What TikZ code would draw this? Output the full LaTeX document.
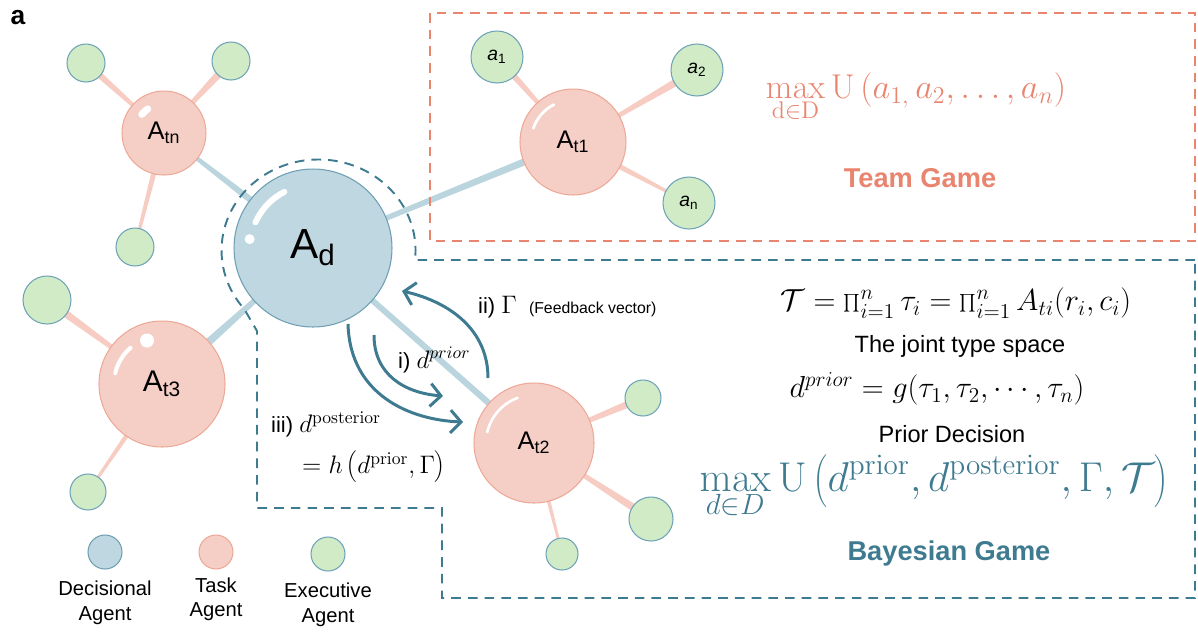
\RequirePackage{fix-cm}
\documentclass[tikz,border=0pt]{standalone}
\usepackage[no-math]{fontspec}
\setmainfont{Liberation Sans}
\usetikzlibrary{positioning,calc,arrows.meta,backgrounds}

\definecolor{decfill}{HTML}{BFD7E0}
\definecolor{decline}{HTML}{6E9FB3}
\definecolor{taskfill}{HTML}{F5CFC6}
\definecolor{taskline}{HTML}{EDA897}
\definecolor{execfill}{HTML}{D1EBC6}
\definecolor{execline}{HTML}{6FA3B8}
\definecolor{bondblue}{HTML}{BAD5DE}
\definecolor{bondpink}{HTML}{F6CCC3}
\definecolor{salmon}{HTML}{E9846F}
\definecolor{tealc}{HTML}{3F7B90}

% tapered link between two agents
\newcommand{\bond}[5]{%
  \fill[#3] ($(#1)!#4!90:(#2)$) -- ($(#2)!#5!-90:(#1)$)
    -- ($(#2)!#5!90:(#1)$) -- ($(#1)!#4!-90:(#2)$) -- cycle;}

\tikzset{
  agent/.style={circle, inner sep=0pt, line width=0.6pt},
  decision/.style={agent, fill=decfill, draw=decline},
  task/.style={agent, fill=taskfill, draw=taskline},
  exec/.style={agent, fill=execfill, draw=execline},
  gloss/.style={white, line cap=round},
  gamebox/.style={dash pattern=on 5.5pt off 4pt, line width=1.1pt},
  flow/.style={tealc, line width=1.7pt, -{Straight Barb[length=6pt,width=13pt]}},
  legtext/.style={align=center, font=\fontsize{11.5}{14}\selectfont},
}

\begin{document}
\begin{tikzpicture}[x=0.02cm, y=-0.02cm]
\useasboundingbox (0,0) rectangle (1198,637);

\node[font=\bfseries\fontsize{15}{15}\selectfont] (panel) at (18,18) {a};

% agents
\node[decision, minimum size=3.16cm, font=\fontsize{24}{24}\selectfont] (Ad) at (313,248) {A\textsubscript{d}};
\node[task, minimum size=1.68cm, font=\fontsize{14.5}{14.5}\selectfont] (Atn) at (164,133) {A\textsubscript{tn}};
\node[task, minimum size=2.12cm, font=\fontsize{14.5}{14.5}\selectfont] (At1) at (573,142) {A\textsubscript{t1}};
\node[task, minimum size=2.52cm, font=\fontsize{17}{17}\selectfont] (At3) at (162,384) {A\textsubscript{t3}};
\node[task, minimum size=2.4cm, font=\fontsize{14.5}{14.5}\selectfont] (At2) at (534,443) {A\textsubscript{t2}};

\node[exec, minimum size=0.76cm] (gn1) at (86,63) {};
\node[exec, minimum size=0.76cm] (gn2) at (231,61) {};
\node[exec, minimum size=0.76cm] (gn3) at (135,247) {};
\node[exec, minimum size=1.04cm, font=\fontsize{11}{11}\selectfont] (a1) at (497,57) {\textit{a}\textsubscript{1}};
\node[exec, minimum size=1.04cm, font=\fontsize{11}{11}\selectfont] (a2) at (697,70) {\textit{a}\textsubscript{2}};
\node[exec, minimum size=1.04cm, font=\fontsize{11}{11}\selectfont] (an) at (689,203) {\textit{a}\textsubscript{n}};
\node[exec, minimum size=0.96cm] (g31) at (47,300) {};
\node[exec, minimum size=0.72cm] (g32) at (88,492) {};
\node[exec, minimum size=0.72cm] (g21) at (643,398) {};
\node[exec, minimum size=0.88cm] (g22) at (651,519) {};
\node[exec, minimum size=0.64cm] (g23) at (562,554) {};

\begin{pgfonlayer}{background}
\bond{Ad}{Atn}{bondblue}{2.6pt}{0.8pt}
\bond{Ad}{At1}{bondblue}{1.2pt}{2.2pt}
\bond{Ad}{At3}{bondblue}{0.8pt}{2.8pt}
\bond{Ad}{At2}{bondblue}{1.6pt}{1.8pt}
\bond{Atn}{gn1}{bondpink}{0.6pt}{2pt}
\bond{Atn}{gn2}{bondpink}{0.6pt}{2.4pt}
\bond{Atn}{gn3}{bondpink}{1.8pt}{0.8pt}
\bond{At1}{a1}{bondpink}{0.6pt}{2pt}
\bond{At1}{a2}{bondpink}{0.6pt}{2.4pt}
\bond{At1}{an}{bondpink}{2pt}{0.7pt}
\bond{At3}{g31}{bondpink}{0.6pt}{2.4pt}
\bond{At3}{g32}{bondpink}{1.8pt}{0.7pt}
\bond{At2}{g21}{bondpink}{0.6pt}{2.2pt}
\bond{At2}{g22}{bondpink}{0.6pt}{2.4pt}
\bond{At2}{g23}{bondpink}{1.4pt}{0.7pt}
\end{pgfonlayer}

% highlights
\draw[gloss, line width=3.4pt] ($(Ad)+(-156:63)$) arc[start angle=-156, end angle=-117, radius=63];
\fill[white] ($(Ad)+(-172:64)$) circle[radius=5];
\draw[gloss, line width=4pt] ($(Atn)+(-140:29)$) arc[start angle=-140, end angle=-124, radius=29];
\draw[gloss, line width=1.6pt] ($(At1)+(-161:42)$) arc[start angle=-161, end angle=-117, radius=42];
\draw[gloss, line width=2.3pt] ($(At3)+(-167:48)$) arc[start angle=-167, end angle=-131, radius=48];
\fill[white] ($(At3)+(-109:46)$) circle[radius=7];
\draw[gloss, line width=1.5pt] ($(At2)+(-167:48)$) arc[start angle=-167, end angle=-110, radius=48];

% game boxes
\draw[gamebox, salmon] (430,13) rectangle (1195,241);
\draw[gamebox, tealc] (1195,260) -- (415,260)
  arc[x radius=97, y radius=91, start angle=6, end angle=-220]
  -- (257,331) -- (257,508) -- (442,508) -- (442,598) -- (1195,598) -- cycle;

% team game
\node[salmon, font=\fontsize{19.6}{19.6}\selectfont] (teamU) at (916,97)
  {$\displaystyle\max\limits_{\mathrm{d\in D}}\mathrm{U}\left(a_{1,}\,a_2,\ldots,a_n\right)$};
\node[salmon, font=\bfseries\fontsize{15.5}{15.5}\selectfont] (team) at (920,178) {Team Game};

% bayesian game
\node[font=\fontsize{17.3}{17.3}\selectfont] (typeeq) at (956,303)
  {$\mathcal{T}=\prod_{i=1}^{n}\tau_i=\prod_{i=1}^{n}A_{ti}(r_i,c_i)$};
\node[font=\fontsize{13.4}{13.4}\selectfont] (typetxt) at (960,346) {The joint type space};
\node[font=\fontsize{17.3}{17.3}\selectfont] (prioreq) at (937,389)
  {$d^{prior}=g(\tau_1,\tau_2,\cdots,\tau_n)$};
\node[font=\fontsize{13.4}{13.4}\selectfont] (priortxt) at (952,434) {Prior Decision};
\node[tealc, font=\fontsize{23.7}{23.7}\selectfont] (bayesU) at (934,486)
  {$\displaystyle\max\limits_{d\in D}\mathrm{U}\left(d^{\mathrm{prior}},d^{\mathrm{posterior}},\Gamma,\mathcal{T}\right)$};
\node[tealc, font=\bfseries\fontsize{15.5}{15.5}\selectfont] (bayes) at (949,553) {Bayesian Game};

% interaction arrows
\coordinate (iiS) at (488,378);
\coordinate (iiE) at (402,291);
\coordinate (iS) at (374,335);
\coordinate (iE) at (443,396);
\coordinate (iiiS) at (348,324);
\coordinate (iiiE) at (463,422);
\draw[flow] (iiS) .. controls (488,330) and (450,302) .. (iiE);
\draw[flow] (iS) .. controls (374,375) and (405,393) .. (iE);
\draw[flow] (iiiS) .. controls (350,395) and (410,420) .. (iiiE);

\node[anchor=west, font=\fontsize{12.5}{12.5}\selectfont] (lblii) at (472,307)
  {ii)~{\fontsize{14.4}{14.4}\selectfont$\Gamma$}~~{\fontsize{9}{9}\selectfont(Feedback vector)}};
\node[anchor=west, font=\fontsize{12.5}{12.5}\selectfont] (lbli) at (392,360)
  {i)~{\fontsize{14.4}{14.4}\selectfont$d^{prior}$}};
\node[anchor=west, font=\fontsize{12.5}{12.5}\selectfont] (lbliii) at (265,424)
  {iii)~{\fontsize{14.4}{14.4}\selectfont$d^{\mathrm{posterior}}$}};
\node[anchor=west, font=\fontsize{14.4}{14.4}\selectfont] (lbliv) at (296,467)
  {$=h\left(d^{\mathrm{prior}},\Gamma\right)$};

% legend
\node[decision, minimum size=0.68cm] (legDec) at (105,552) {};
\node[task, minimum size=0.68cm] (legTask) at (216,552) {};
\node[exec, minimum size=0.68cm] (legExec) at (328,554) {};
\node[legtext, below=3pt of legDec] (legDecText) {Decisional\\Agent};
\node[legtext, below=1pt of legTask] (legTaskText) {Task\\Agent};
\node[legtext, below=3pt of legExec] (legExecText) {Executive\\Agent};
\end{tikzpicture}
\end{document}
